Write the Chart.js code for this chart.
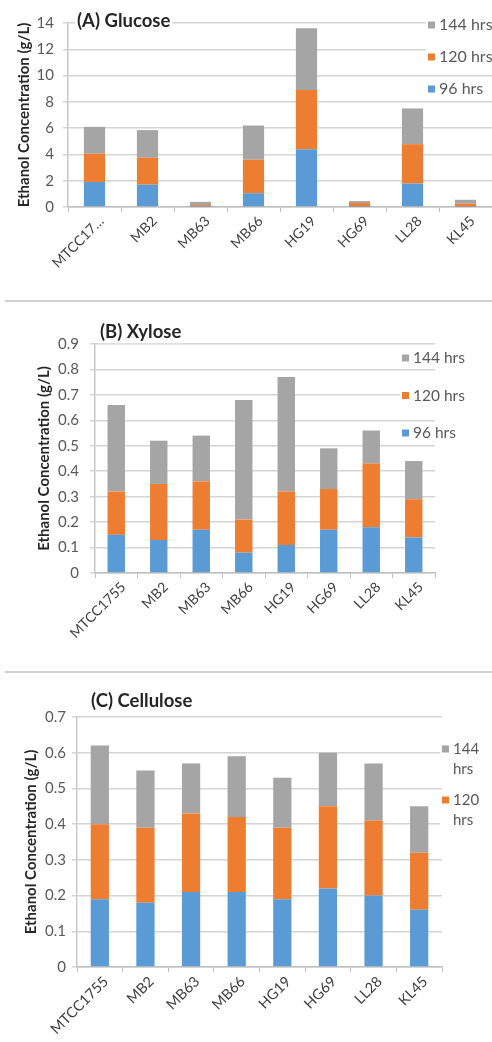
<!DOCTYPE html>
<html>
<head>
<meta charset="utf-8">
<script src="https://cdn.jsdelivr.net/npm/chart.js@4.4.1/dist/chart.umd.min.js"></script>
<style>
  html, body { margin: 0; padding: 0; background: #fff; }
  body { width: 492px; height: 1042px; position: relative; overflow: hidden; }
  .panel { position: absolute; left: 0; width: 492px; }
  .rule { position: absolute; left: 5px; width: 487px; height: 0; border-top: 2px solid #d0d0d0; }
</style>
</head>
<body>
<div class="panel" style="top:0;height:300px"><canvas id="chartGlucose" width="492" height="300"></canvas></div>
<div class="rule" style="top:300px"></div>
<div class="panel" style="top:304px;height:367px"><canvas id="chartXylose" width="492" height="367"></canvas></div>
<div class="rule" style="top:671px"></div>
<div class="panel" style="top:675px;height:367px"><canvas id="chartCellulose" width="492" height="367"></canvas></div>

<script>
// Strains (glucose panel shows the first name truncated)
const strainsGlucose = ['MTCC17…', 'MB2', 'MB63', 'MB66', 'HG19', 'HG69', 'LL28', 'KL45'];
const strains = ['MTCC1755', 'MB2', 'MB63', 'MB66', 'HG19', 'HG69', 'LL28', 'KL45'];
const seriesNames = ['96 hrs', '120 hrs', '144 hrs'];

// Ethanol produced in each interval (g/L), stacked per strain
const glucose96  = [1.90, 1.70, 0.02, 1.05, 4.40, 0.02, 1.78, 0.03];
const glucose120 = [2.15, 2.05, 0.12, 2.55, 4.50, 0.28, 3.00, 0.22];
const glucose144 = [2.05, 2.10, 0.25, 2.60, 4.70, 0.15, 2.72, 0.30];

const xylose96  = [0.15, 0.13, 0.17, 0.08, 0.11, 0.17, 0.18, 0.14];
const xylose120 = [0.17, 0.22, 0.19, 0.13, 0.21, 0.16, 0.25, 0.15];
const xylose144 = [0.34, 0.17, 0.18, 0.47, 0.45, 0.16, 0.13, 0.15];

const cellulose96  = [0.19, 0.18, 0.21, 0.21, 0.19, 0.22, 0.20, 0.16];
const cellulose120 = [0.21, 0.21, 0.22, 0.21, 0.20, 0.23, 0.21, 0.16];
const cellulose144 = [0.22, 0.16, 0.14, 0.17, 0.14, 0.15, 0.16, 0.13];

// y axis: [min, max, step]
const glucoseAxis = [0, 14, 2];
const xyloseAxis = [0, 0.9, 0.1];
const celluloseAxis = [0, 0.7, 0.1];

const seriesColors = ['#5B9BD5', '#ED7D31', '#A5A5A5'];
const textColor = '#595959';
const gridColor = '#d4d4d4';
const fontFamily = 'Lato, "Open Sans", sans-serif';

// Panel heading drawn over the plot with a white backing
const panelHeading = {
  id: 'panelHeading',
  afterDraw(chart, args, opts) {
    const ctx = chart.ctx;
    ctx.save();
    ctx.font = `bold ${opts.size}px ${fontFamily}`;
    ctx.textBaseline = 'middle';
    const w = ctx.measureText(opts.text).width;
    ctx.fillStyle = '#fff';
    ctx.fillRect(opts.x - 2, opts.y - opts.size / 2 - 2, w + 4, opts.size + 4);
    ctx.fillStyle = '#262626';
    ctx.fillText(opts.text, opts.x, opts.y);
    ctx.restore();
  }
};

// Legend entries listed top-down from the last series
const cornerLegend = {
  id: 'cornerLegend',
  afterDraw(chart, args, opts) {
    const ctx = chart.ctx;
    ctx.save();
    ctx.font = `${opts.size}px ${fontFamily}`;
    ctx.textBaseline = 'middle';
    const items = chart.data.datasets.slice().reverse().slice(0, opts.count);
    items.forEach((ds, i) => {
      const lines = opts.wrap ? ds.label.split(' ') : [ds.label];
      const y = opts.y + i * opts.gap;
      const w = Math.max(...lines.map(l => ctx.measureText(l).width));
      ctx.fillStyle = '#fff';
      ctx.fillRect(opts.x - 2, y - opts.size / 2 - 2, opts.box + 6 + w + 4, lines.length * opts.lineH + 2);
      ctx.fillStyle = ds.backgroundColor;
      ctx.fillRect(opts.x, y - opts.box / 2, opts.box, opts.box);
      ctx.fillStyle = textColor;
      lines.forEach((l, k) => ctx.fillText(l, opts.x + opts.box + 4, y + k * opts.lineH));
    });
    ctx.restore();
  }
};

function stackedChart(id, labels, s96, s120, s144, axis, geo) {
  const values = [s96, s120, s144];
  return new Chart(document.getElementById(id), {
    type: 'bar',
    data: {
      labels: labels,
      datasets: values.map((v, i) => ({
        label: seriesNames[i],
        data: v,
        backgroundColor: seriesColors[i],
        borderWidth: 0,
        categoryPercentage: 1,
        barPercentage: geo.bar
      }))
    },
    options: {
      responsive: false,
      devicePixelRatio: 1,
      animation: false,
      layout: { padding: { top: geo.top, right: geo.right, left: 0, bottom: 0 } },
      plugins: {
        legend: { display: false },
        tooltip: { enabled: false },
        panelHeading: geo.heading,
        cornerLegend: geo.legend
      },
      scales: {
        x: {
          stacked: true,
          afterFit: s => { s.height = geo.xh; },
          grid: { drawOnChartArea: false, drawTicks: true, tickLength: 5, color: '#bfbfbf', offset: true },
          border: { color: '#bfbfbf', width: 1.5 },
          ticks: {
            color: '#3f3f3f', minRotation: 45, maxRotation: 45, autoSkip: false,
            padding: geo.xpad, labelOffset: geo.xshift,
            font: { family: fontFamily, size: geo.xfont }
          }
        },
        y: {
          stacked: true,
          min: axis[0], max: axis[1],
          afterFit: s => { s.width = geo.yw; },
          grid: { color: gridColor, lineWidth: 1.5, tickLength: 5, drawTicks: true },
          border: { color: '#c8c8c8', width: 1.5 },
          ticks: {
            stepSize: axis[2], color: textColor, padding: geo.ypad,
            font: { family: fontFamily, size: 15 }
          },
          title: {
            display: true,
            text: 'Ethanol Concentration (g/L)',
            color: '#262626',
            font: { family: fontFamily, size: 15, weight: 'bold' },
            padding: { top: geo.titlePad, bottom: 0 }
          }
        }
      }
    },
    plugins: [panelHeading, cornerLegend]
  });
}

stackedChart('chartGlucose', strainsGlucose, glucose96, glucose120, glucose144, glucoseAxis, {
  bar: 0.4, top: 23, right: 0, xh: 93, yw: 68, xpad: 1, xshift: 7, xfont: 14, ypad: 9, titlePad: 15,
  heading: { text: '(A) Glucose', x: 77, y: 21, size: 18.5 },
  legend: { x: 428, y: 25, gap: 32, box: 7, size: 16, lineH: 18, count: 3, wrap: false }
});

stackedChart('chartXylose', strains, xylose96, xylose120, xylose144, xyloseAxis, {
  bar: 0.41, top: 40, right: 57, xh: 98, yw: 95, xpad: 1, xshift: 7, xfont: 14, ypad: 11, titlePad: 35,
  heading: { text: '(B) Xylose', x: 100, y: 28, size: 18.5 },
  legend: { x: 402, y: 54, gap: 37.5, box: 7, size: 15.5, lineH: 18, count: 3, wrap: false }
});

stackedChart('chartCellulose', strains, cellulose96, cellulose120, cellulose144, celluloseAxis, {
  bar: 0.4, top: 42, right: 50, xh: 75, yw: 77, xpad: 1, xshift: 6, xfont: 14.5, ypad: 6, titlePad: 22,
  heading: { text: '(C) Cellulose', x: 91, y: 26, size: 18.5 },
  legend: { x: 442, y: 74, gap: 51, box: 7, size: 15, lineH: 20, count: 2, wrap: true }
});
</script>
</body>
</html>
